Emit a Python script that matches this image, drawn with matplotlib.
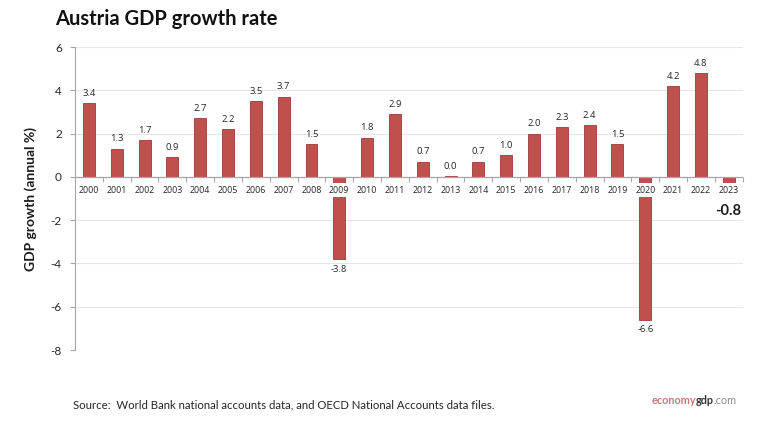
"""Austria GDP growth rate, annual %, bar chart in the economygdp.com style."""

import matplotlib

matplotlib.use("Agg")
import matplotlib.pyplot as plt
import numpy as np

years = [str(y) for y in range(2000, 2024)]
growth = [3.4, 1.3, 1.7, 0.9, 2.7, 2.2, 3.5, 3.7, 1.5, -3.8, 1.8, 2.9,
          0.7, 0.03, 0.7, 1.0, 2.0, 2.3, 2.4, 1.5, -6.6, 4.2, 4.8, -0.8]
y_ticks = [-8, -6, -4, -2, 0, 2, 4, 6]

BAR_COLOR = "#C0504D"
EDGE_COLOR = "#9A3A37"
AXIS_GRAY = "#A6A6A6"
GRID_GRAY = "#E6E6E6"
TEXT = "#262626"
SMALL = ["Open Sans", "DejaVu Sans"]

plt.rcParams["font.family"] = ["Lato", "DejaVu Sans"]

fig = plt.figure(figsize=(7.68, 4.22), dpi=100)
ax = fig.add_axes([0.0977, 0.1706, 0.8693, 0.718])

x = np.arange(len(years))
ax.bar(x, growth, width=0.43, color=BAR_COLOR, edgecolor=EDGE_COLOR,
       linewidth=0.6, zorder=1)

# value labels: above positive bars, below negative ones; last year stands out
for xi, val in zip(x[:-1], growth[:-1]):
    if val >= 0:
        ax.text(xi, val + 0.25, f"{val:.1f}", ha="center", va="bottom",
                fontsize=6.8, color=TEXT, family=SMALL)
    else:
        ax.text(xi, val - 0.25, f"{val:.1f}", ha="center", va="top",
                fontsize=6.8, color=TEXT, family=SMALL)
ax.text(x[-1] + 0.45, -1.25, f"{growth[-1]:.1f}", ha="right", va="top",
        fontsize=10.5, fontweight="bold", color="#1a1a1a")

# year labels sit on a white patch just under the zero line, over the bars
for xi, year in zip(x, years):
    ax.annotate(year, (xi, 0), xytext=(0, -9.5), textcoords="offset points",
                ha="center", va="center", fontsize=6.4, color=TEXT,
                family=SMALL, zorder=3,
                bbox=dict(facecolor="white", edgecolor="none", pad=1.6))

ax.set_xlim(-0.5, len(years) - 0.5)
ax.set_ylim(-8, 6)
ax.set_yticks(y_ticks)
ax.set_yticklabels([str(t) for t in y_ticks], fontsize=8.5, color=TEXT)
ax.grid(axis="y", color=GRID_GRAY, linewidth=0.8, zorder=0)
ax.set_axisbelow(True)
ax.axhline(0, color=AXIS_GRAY, linewidth=0.9, zorder=1.5)

# tick marks between categories, hung from the zero line
ax.set_xticks(np.arange(-0.5, len(years), 1.0))
ax.set_xticklabels([])
ax.tick_params(axis="x", length=3.5, color=AXIS_GRAY, direction="out")
ax.tick_params(axis="y", length=3.5, color=AXIS_GRAY, pad=6)
ax.spines["bottom"].set_position(("data", 0))
ax.spines["bottom"].set_visible(False)

for side in ("top", "right"):
    ax.spines[side].set_visible(False)
ax.spines["left"].set_color(AXIS_GRAY)

ax.set_ylabel("GDP growth (annual %)", fontsize=10, fontweight="bold",
              color="#1a1a1a", labelpad=10)

fig.text(0.0716, 0.955, "Austria GDP growth rate", fontsize=14.5,
         fontweight="bold", color="#111111", ha="left", va="center")
fig.text(0.095, 0.04, "Source:  World Bank national accounts data, and OECD "
         "National Accounts data files.", fontsize=8.2, color=TEXT,
         ha="left", va="center")

# site mark, three colours
logo = fig.text(0.848, 0.05, "economy", fontsize=7.8, color="#C9787A",
                fontweight="bold", ha="left", va="center")
fig.canvas.draw()
bb = logo.get_window_extent()
inv = fig.transFigure.inverted()
x1 = inv.transform((bb.x1, bb.y0))[0]
gdp = fig.text(x1, 0.05, "gdp", fontsize=7.8, color="#333333",
               fontweight="bold", ha="left", va="center")
fig.canvas.draw()
x2 = inv.transform((gdp.get_window_extent().x1, 0))[0]
fig.text(x2, 0.05, ".com", fontsize=7.8, color="#8C8C8C",
         ha="left", va="center")

fig.savefig("out.png", dpi=100)
